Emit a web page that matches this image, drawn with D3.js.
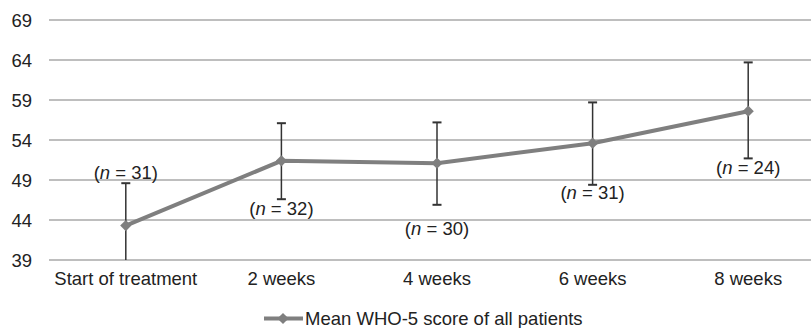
<!DOCTYPE html>
<html>
<head>
<meta charset="utf-8">
<script src="https://cdn.jsdelivr.net/npm/d3@7"></script>
<style>
  body { margin: 0; background: #fff; }
  text { font-family: "Liberation Sans", Arial, sans-serif; font-size: 18.5px; fill: #222; }
</style>
</head>
<body>
<div id="chart"></div>
<script>
var width = 811, height = 328;

// data
var categories = ["Start of treatment", "2 weeks", "4 weeks", "6 weeks", "8 weeks"];
var means = [43.3, 51.4, 51.1, 53.6, 57.6];
var errHigh = [48.6, 56.1, 56.2, 58.7, 63.7];
var errLow = [38.0, 46.6, 45.9, 48.4, 51.7];
var nLabels = ["31", "32", "30", "31", "24"];
var nLabelAt = [49.9, 45.5, 43.0, 47.4, 50.6];
var yTicks = [39, 44, 49, 54, 59, 64, 69];
var legendLabel = "Mean WHO-5 score of all patients";

var svg = d3.select("#chart").append("svg").attr("width", width).attr("height", height);

var x = d3.scaleBand().domain(categories).range([48, 826]);
var y = d3.scaleLinear().domain([39, 69]).range([260, 20]);
var cx = function(d) { return x(d) + x.bandwidth() / 2; };

svg.append("defs").append("clipPath").attr("id", "plot")
  .append("rect").attr("x", 48).attr("y", 0).attr("width", width).attr("height", 260);

// gridlines
svg.append("g").selectAll("line").data(yTicks).enter().append("line")
  .attr("x1", 49).attr("x2", width).attr("y1", d => y(d)).attr("y2", d => y(d))
  .attr("stroke", "#a9a9a9").attr("stroke-width", 1.5);

// y axis labels
var yAxis = svg.append("g").attr("transform", "translate(40,0)")
  .call(d3.axisLeft(y).tickValues(yTicks).tickSize(0).tickPadding(8));
yAxis.select(".domain").remove();
yAxis.selectAll("text").attr("font-size", null).attr("font-family", null).attr("dy", "0.36em");

// x axis labels
var xAxis = svg.append("g").attr("transform", "translate(0,268)")
  .call(d3.axisBottom(x).tickSize(0).tickPadding(4));
xAxis.select(".domain").remove();
xAxis.selectAll("text").attr("font-size", null).attr("font-family", null);

// line
svg.append("path").datum(categories)
  .attr("d", d3.line().x(d => cx(d)).y((d, i) => y(means[i])))
  .attr("fill", "none").attr("stroke", "#7f7f7f").attr("stroke-width", 4);

// error bars
var eb = svg.append("g").attr("clip-path", "url(#plot)");
eb.selectAll("line.bar").data(categories).enter().append("line").attr("class", "bar")
  .attr("x1", d => cx(d)).attr("x2", d => cx(d))
  .attr("y1", (d, i) => y(errHigh[i])).attr("y2", (d, i) => y(errLow[i]))
  .attr("stroke", "#333").attr("stroke-width", 1.5);
eb.selectAll("line.capT").data(categories).enter().append("line").attr("class", "capT")
  .attr("x1", d => cx(d) - 4.5).attr("x2", d => cx(d) + 4.5)
  .attr("y1", (d, i) => y(errHigh[i])).attr("y2", (d, i) => y(errHigh[i]))
  .attr("stroke", "#333").attr("stroke-width", 2);
eb.selectAll("line.capB").data(categories).enter().append("line").attr("class", "capB")
  .attr("x1", d => cx(d) - 4.5).attr("x2", d => cx(d) + 4.5)
  .attr("y1", (d, i) => y(errLow[i])).attr("y2", (d, i) => y(errLow[i]))
  .attr("stroke", "#333").attr("stroke-width", 2);

// markers
var diamond = d3.symbol().type(d3.symbolDiamond2).size(80);
svg.append("g").selectAll("path").data(categories).enter().append("path")
  .attr("d", diamond)
  .attr("transform", (d, i) => "translate(" + cx(d) + "," + y(means[i]) + ")")
  .attr("fill", "#7f7f7f");

// n labels
var nl = svg.append("g").selectAll("text").data(categories).enter().append("text")
  .attr("x", d => cx(d)).attr("y", (d, i) => y(nLabelAt[i]))
  .attr("dy", "0.36em").attr("text-anchor", "middle");
nl.append("tspan").text("(");
nl.append("tspan").attr("font-style", "italic").text("n");
nl.append("tspan").text((d, i) => " = " + nLabels[i] + ")");

// legend
var lg = svg.append("g").attr("transform", "translate(0,318.5)");
lg.append("line").attr("x1", 264).attr("x2", 303).attr("y1", 0).attr("y2", 0)
  .attr("stroke", "#7f7f7f").attr("stroke-width", 4);
lg.append("path").attr("d", diamond).attr("transform", "translate(283,0)").attr("fill", "#7f7f7f");
lg.append("text").attr("x", 305).attr("y", 0).attr("dy", "0.36em").text(legendLabel);
</script>
</body>
</html>
